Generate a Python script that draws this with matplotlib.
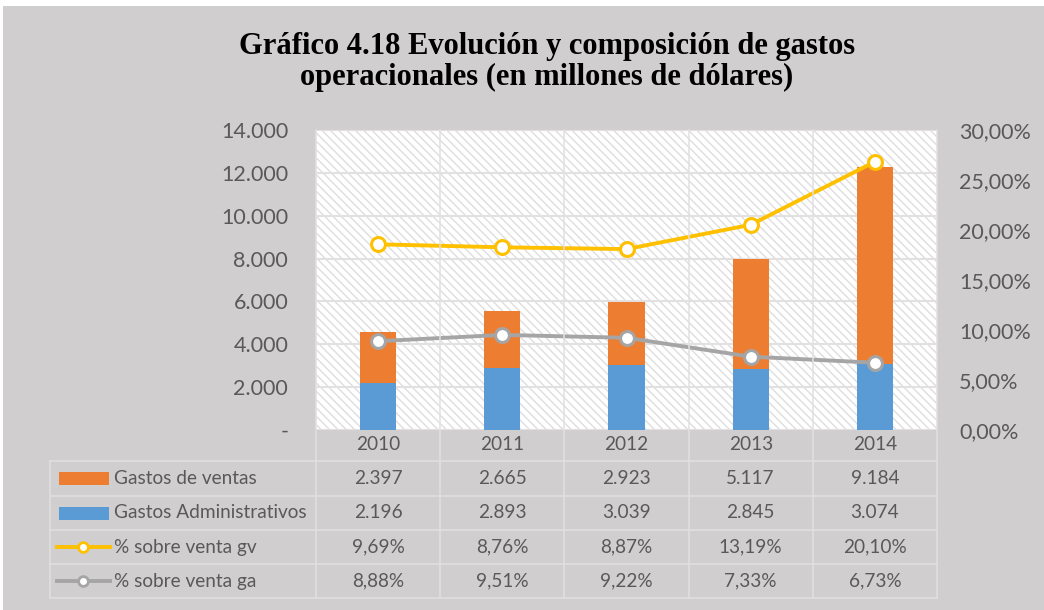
import matplotlib
matplotlib.use("Agg")
import matplotlib.pyplot as plt
from matplotlib.patches import Rectangle
from matplotlib.lines import Line2D

# data (millones de dólares / %)
years = ['2010', '2011', '2012', '2013', '2014']
gastos_ventas = [2397, 2665, 2923, 5117, 9184]
gastos_admin = [2196, 2893, 3039, 2845, 3074]
pct_gv = [9.69, 8.76, 8.87, 13.19, 20.10]
pct_ga = [8.88, 9.51, 9.22, 7.33, 6.73]

BG = '#d0cece'
GRID = '#e2e0e0'
TXT = '#595959'
ORANGE = '#ED7D31'
BLUE = '#5B9BD5'
YELLOW = '#FFC000'
GRAY = '#A5A5A5'
FS = 13.7
TICK_FS = 15.5

plt.rcParams['font.family'] = ['Lato', 'DejaVu Sans']
plt.rcParams['hatch.linewidth'] = 1.0

W, H = 1044, 610
fig = plt.figure(figsize=(W / 100, H / 100), dpi=100, facecolor='white')


def fx(x):
    return x / W


def fy(y):
    return 1 - y / H


# gray chart area
fig.patches.append(Rectangle((fx(3), 0), 1 - fx(3), fy(6), transform=fig.transFigure,
                             facecolor=BG, edgecolor='none', zorder=-10))

left, right, top, bottom = 316, 937, 130, 430
ax = fig.add_axes([fx(left), fy(bottom), fx(right - left), (bottom - top) / H])
ax.patch.set_visible(False)
ax.add_patch(Rectangle((0, 0), 1, 1, transform=ax.transAxes, facecolor='white',
                       edgecolor='#dedede', hatch='\\\\\\\\', linewidth=0, zorder=0))

x = list(range(len(years)))
ax.bar(x, gastos_admin, width=0.29, color=BLUE, zorder=3)
ax.bar(x, gastos_ventas, width=0.29, bottom=gastos_admin, color=ORANGE, zorder=3)
ax.set_xlim(-0.5, len(years) - 0.5)
ax.set_ylim(0, 14000)
ax.set_yticks(range(0, 14001, 2000))
ax.set_yticklabels(['-' if v == 0 else f"{v:,}".replace(',', '.') for v in range(0, 14001, 2000)])
ax.set_xticks([])
ax.grid(axis='y', color=GRID, linewidth=1.5, zorder=1)
ax.tick_params(axis='y', length=0, labelsize=TICK_FS, colors=TXT, pad=20)
for s in ax.spines.values():
    s.set_visible(False)

ax2 = ax.twinx()
ax2.set_ylim(0, 30)
ax2.set_yticks(range(0, 31, 5))
ax2.set_yticklabels([f"{v:.2f}".replace('.', ',') + '%' for v in range(0, 31, 5)])
ax2.tick_params(axis='y', length=0, labelsize=TICK_FS, colors=TXT, pad=16)
for s in ax2.spines.values():
    s.set_visible(False)

# stacked lines (as in the original Excel chart)
stack_gv = [a + b for a, b in zip(pct_ga, pct_gv)]
ax2.plot(x, stack_gv, color=YELLOW, linewidth=2.8, marker='o', markersize=10,
         markerfacecolor='white', markeredgecolor=YELLOW, markeredgewidth=2.2, zorder=5)
ax2.plot(x, pct_ga, color=GRAY, linewidth=2.8, marker='o', markersize=10,
         markerfacecolor='white', markeredgecolor=GRAY, markeredgewidth=2.2, zorder=5)

# title
fig.text(fx(547), fy(62), 'Gráfico 4.18 Evolución y composición de gastos\noperacionales (en millones de dólares)',
         ha='center', va='center', fontsize=22, fontweight='bold', family='Liberation Serif',
         linespacing=1.1, color='black')

# data table
col_w = (right - left) / len(years)
col_edges = [left + i * col_w for i in range(len(years) + 1)]
row_edges = [461, 496, 530, 564, 598]


def hline(y, x0, x1):
    fig.lines.append(Line2D([fx(x0), fx(x1)], [fy(y), fy(y)], transform=fig.transFigure,
                            color=GRID, linewidth=1.1, zorder=2))


def vline(x0, y0, y1):
    fig.lines.append(Line2D([fx(x0), fx(x0)], [fy(y0), fy(y1)], transform=fig.transFigure,
                            color=GRID, linewidth=1.1, zorder=2))


for y in row_edges:
    hline(y, 50, right)
vline(50, row_edges[0], row_edges[-1])
for xe in col_edges:
    vline(xe, top, row_edges[-1])

for i, yr in enumerate(years):
    fig.text(fx(left + (i + 0.5) * col_w), fy(445), yr, ha='center', va='center',
             fontsize=FS, color=TXT)

rows = [
    ('Gastos de ventas', [f"{v:,}".replace(',', '.') for v in gastos_ventas], 'bar', ORANGE),
    ('Gastos Administrativos', [f"{v:,}".replace(',', '.') for v in gastos_admin], 'bar', BLUE),
    ('% sobre venta gv', [f"{v:.2f}".replace('.', ',') + '%' for v in pct_gv], 'line', YELLOW),
    ('% sobre venta ga', [f"{v:.2f}".replace('.', ',') + '%' for v in pct_ga], 'line', GRAY),
]
for r, (label, vals, kind, color) in enumerate(rows):
    yc = (row_edges[r] + row_edges[r + 1]) / 2
    if kind == 'bar':
        fig.patches.append(Rectangle((fx(59), fy(yc + 6.5)), fx(50), 13 / H,
                                     transform=fig.transFigure, facecolor=color,
                                     edgecolor='none', zorder=3))
    else:
        fig.lines.append(Line2D([fx(57), fx(110)], [fy(yc), fy(yc)], transform=fig.transFigure,
                                color=color, linewidth=2.8, zorder=3))
        fig.lines.append(Line2D([fx(83)], [fy(yc)], transform=fig.transFigure, marker='o',
                                markersize=7, markerfacecolor='white', markeredgecolor=color,
                                markeredgewidth=2, zorder=4))
    fig.text(fx(114), fy(yc), label, ha='left', va='center', fontsize=FS, color=TXT)
    for i, v in enumerate(vals):
        fig.text(fx(left + (i + 0.5) * col_w), fy(yc), v, ha='center', va='center',
                 fontsize=FS, color=TXT)

fig.savefig('out.png', dpi=100, facecolor='white')
